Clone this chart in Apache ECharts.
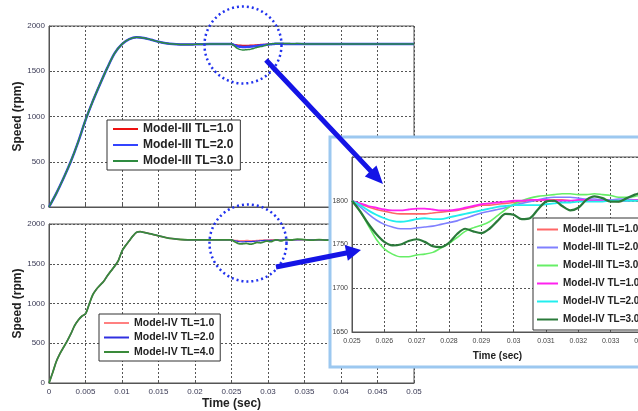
<!DOCTYPE html>
<html>
<head>
<meta charset="utf-8">
<script src="https://cdn.jsdelivr.net/npm/echarts@6/dist/echarts.min.js"></script>
<style>
  html, body { margin: 0; padding: 0; background: #fff; }
  #chart { width: 638px; height: 411px; }
</style>
</head>
<body>
<div id="chart"></div>
<script>
// ---- start-up transient (0 .. 0.025 s) ----
const startTimeIII = [0, 0.001, 0.002, 0.003, 0.004, 0.005, 0.006, 0.007, 0.008, 0.009, 0.010, 0.011, 0.012,
  0.013, 0.014, 0.015, 0.016, 0.017, 0.018, 0.019, 0.020, 0.021, 0.022, 0.023, 0.024];
const startSpeedIII = [0, 150, 320, 505, 720, 960, 1170, 1360, 1540, 1700, 1800, 1855, 1875,
  1868, 1848, 1825, 1810, 1800, 1796, 1795, 1797, 1799, 1800, 1800, 1800];

const startTimeIV = [0, 0.0005, 0.001, 0.0015, 0.002, 0.0025, 0.003, 0.0035, 0.004, 0.0045, 0.005, 0.0055,
  0.006, 0.0065, 0.007, 0.0075, 0.008, 0.0085, 0.009, 0.0095, 0.010, 0.0105, 0.011, 0.0115, 0.012, 0.0125,
  0.013, 0.014, 0.015, 0.016, 0.017, 0.018, 0.019, 0.020, 0.022, 0.024];
const startSpeedIV = [0, 130, 270, 370, 450, 530, 620, 720, 790, 840, 870, 990,
  1110, 1180, 1230, 1280, 1350, 1410, 1470, 1540, 1660, 1730, 1790, 1850, 1895, 1905,
  1895, 1875, 1850, 1830, 1815, 1805, 1800, 1800, 1800, 1800];

// ---- load step response (0.025 .. 0.034 s) ----
const dipTime = [0.025, 0.02525, 0.0255, 0.02575, 0.026, 0.02625, 0.0265, 0.02675, 0.027, 0.02725,
  0.0275, 0.02775, 0.028, 0.02825, 0.0285, 0.02875, 0.029, 0.02925, 0.0295, 0.02975,
  0.030, 0.03025, 0.0305, 0.03075, 0.031, 0.03125, 0.0315, 0.03175, 0.032, 0.03225,
  0.0325, 0.03275, 0.033, 0.03325, 0.0335, 0.03375, 0.034];
const dipIII_TL1 = [1800, 1796, 1793, 1790, 1788, 1786, 1785, 1785, 1785, 1785,
  1786, 1787, 1788, 1789, 1791, 1793, 1795, 1795, 1796, 1797,
  1798, 1799, 1800, 1800, 1801, 1801, 1801, 1800, 1800, 1800,
  1800, 1800, 1800, 1799, 1800, 1800, 1800];
const dipIII_TL2 = [1800, 1793, 1785, 1778, 1773, 1770, 1768, 1768, 1769, 1770,
  1771, 1773, 1775, 1777, 1780, 1783, 1786, 1788, 1790, 1792,
  1795, 1797, 1799, 1801, 1803, 1804, 1804, 1804, 1803, 1802,
  1802, 1801, 1801, 1802, 1802, 1801, 1801];
const dipIII_TL3 = [1800, 1788, 1772, 1756, 1745, 1739, 1736, 1736, 1738, 1739,
  1741, 1746, 1751, 1758, 1765, 1769, 1772, 1776, 1783, 1790,
  1796, 1800, 1803, 1805, 1806, 1807, 1808, 1808, 1807, 1807,
  1808, 1807, 1806, 1804, 1804, 1805, 1807];
const dipIV_TL1 = [1800, 1797, 1794, 1792, 1790, 1789, 1789, 1790, 1791, 1791,
  1790, 1789, 1789, 1790, 1792, 1794, 1796, 1797, 1798, 1799,
  1800, 1800, 1801, 1801, 1801, 1800, 1800, 1800, 1801, 1801,
  1800, 1800, 1800, 1800, 1800, 1801, 1801];
const dipIV_TL2 = [1800, 1795, 1789, 1784, 1780, 1777, 1776, 1777, 1779, 1780,
  1779, 1779, 1781, 1783, 1785, 1787, 1789, 1791, 1793, 1794,
  1795, 1795, 1795, 1795, 1796, 1797, 1798, 1798, 1799, 1799,
  1799, 1799, 1800, 1800, 1800, 1800, 1801];
const dipIV_TL3 = [1800, 1788, 1774, 1762, 1753, 1749, 1750, 1754, 1756, 1753,
  1748, 1747, 1752, 1762, 1768, 1765, 1763, 1768, 1777, 1785,
  1784, 1779, 1780, 1790, 1799, 1800, 1794, 1789, 1792, 1801,
  1805, 1803, 1799, 1799, 1803, 1807, 1810];

// ---- steady state (0.035 .. 0.05 s) ----
const tailTime = [0.035, 0.036, 0.037, 0.038, 0.039, 0.040, 0.041, 0.042, 0.043, 0.044,
  0.045, 0.046, 0.047, 0.048, 0.049, 0.050];
const tailSpeed = [1802, 1800, 1800, 1800, 1800, 1800, 1800, 1800, 1800, 1800,
  1800, 1800, 1800, 1800, 1800, 1800];
const tailSpeedIV_TL4 = [1803, 1797, 1803, 1797, 1802, 1798, 1801, 1799, 1800, 1800,
  1800, 1800, 1800, 1800, 1800, 1800];

// ---- axis ticks ----
const speedTicks = [0, 500, 1000, 1500, 2000];
const timeTicks = [0, 0.005, 0.01, 0.015, 0.02, 0.025, 0.03, 0.035, 0.04, 0.045, 0.05];
const zoomSpeedTicks = [1650, 1700, 1750, 1800, 1850];
const zoomTimeTicks = [0.025, 0.026, 0.027, 0.028, 0.029, 0.030, 0.031, 0.032, 0.033, 0.034];

const FONT = "'Liberation Sans', Arial, sans-serif";
const INSET = 'inset|';

function pairs(times, values) {
  return times.map((t, i) => [t, values[i]]);
}
function fullRun(startT, startV, dipV, tailV) {
  return pairs(startT, startV).concat(pairs(dipTime, dipV), pairs(tailTime, tailV));
}
function fmtNum(v) {
  return String(parseFloat(Number(v).toFixed(4)));
}

function arrowPoints(x1, y1, x2, y2, shaft, headLen, headHalf) {
  const dx = x2 - x1, dy = y2 - y1, L = Math.hypot(dx, dy);
  const ux = dx / L, uy = dy / L, px = -uy, py = ux;
  const bx = x2 - ux * headLen, by = y2 - uy * headLen;
  const s = shaft / 2;
  return [
    [x1 + px * s, y1 + py * s], [bx + px * s, by + py * s], [bx + px * headHalf, by + py * headHalf],
    [x2, y2],
    [bx - px * headHalf, by - py * headHalf], [bx - px * s, by - py * s], [x1 - px * s, y1 - py * s]
  ];
}

const gridLine = { show: true, lineStyle: { color: '#555', type: [2, 2], width: 1 } };
const frameGrid = (extra) => Object.assign({
  show: true, borderColor: '#555', borderWidth: 1, backgroundColor: 'transparent',
  containLabel: false, outerBoundsMode: 'none'
}, extra);

function mainTimeAxis(gridIndex, showLabels, withName) {
  return {
    type: 'value', gridIndex, min: timeTicks[0], max: timeTicks[timeTicks.length - 1],
    interval: timeTicks[1] - timeTicks[0],
    axisLine: { show: true, lineStyle: { color: '#555' } },
    axisTick: { show: true, inside: true, length: 3, lineStyle: { color: '#555' } },
    axisLabel: { show: showLabels, fontSize: 8, color: '#3a3a55', fontFamily: FONT, margin: 5, formatter: fmtNum },
    splitLine: gridLine,
    name: withName ? 'Time (sec)' : '', nameLocation: 'middle', nameGap: 15, nameMoveOverlap: false,
    nameTextStyle: { fontSize: 12, fontWeight: 'bold', color: '#222', fontFamily: FONT }
  };
}
function mainSpeedAxis(gridIndex) {
  return {
    type: 'value', gridIndex, min: speedTicks[0], max: speedTicks[speedTicks.length - 1],
    interval: speedTicks[1] - speedTicks[0],
    axisLine: { show: true, lineStyle: { color: '#555' } },
    axisTick: { show: true, inside: true, length: 3, lineStyle: { color: '#555' } },
    axisLabel: { fontSize: 8, color: '#3a3a55', fontFamily: FONT, margin: 4, formatter: fmtNum },
    splitLine: gridLine,
    name: 'Speed (rpm)', nameLocation: 'middle', nameGap: 25, nameMoveOverlap: false,
    nameTextStyle: { fontSize: 12, fontWeight: 'bold', color: '#222', fontFamily: FONT }
  };
}

function lineSeries(name, data, color, width, xi, yi, z) {
  return {
    type: 'line', name, data, xAxisIndex: xi, yAxisIndex: yi, z: z || 2,
    symbol: 'none', smooth: 0.3, clip: true,
    lineStyle: { color, width }, itemStyle: { color },
    emphasis: { disabled: true }
  };
}

const series = [
  // upper plot: Model-III
  lineSeries('Model-III TL=1.0', fullRun(startTimeIII, startSpeedIII, dipIII_TL1, tailSpeed), '#ee1111', 1.5, 0, 0),
  lineSeries('Model-III TL=2.0', fullRun(startTimeIII, startSpeedIII, dipIII_TL2, tailSpeed), '#3344ff', 2.5, 0, 0),
  lineSeries('Model-III TL=3.0', fullRun(startTimeIII, startSpeedIII, dipIII_TL3, tailSpeed), '#2e8b40', 1.5, 0, 0),
  // lower plot: Model-IV
  lineSeries('Model-IV TL=1.0', fullRun(startTimeIV, startSpeedIV, dipIV_TL1, tailSpeed), '#ff8080', 1.5, 1, 1),
  lineSeries('Model-IV TL=2.0', fullRun(startTimeIV, startSpeedIV, dipIV_TL2, tailSpeed), '#3030e0', 1.2, 1, 1),
  lineSeries('Model-IV TL=4.0', fullRun(startTimeIV, startSpeedIV, dipIV_TL3, tailSpeedIV_TL4), '#3a8a3a', 1.8, 1, 1),
  // magnified view of the load step
  lineSeries(INSET + 'Model-III TL=1.0', pairs(dipTime, dipIII_TL1), '#ff6666', 1.6, 2, 2, 7),
  lineSeries(INSET + 'Model-III TL=2.0', pairs(dipTime, dipIII_TL2), '#8080ff', 1.6, 2, 2, 7),
  lineSeries(INSET + 'Model-III TL=3.0', pairs(dipTime, dipIII_TL3), '#66ee66', 1.6, 2, 2, 7),
  lineSeries(INSET + 'Model-IV TL=1.0', pairs(dipTime, dipIV_TL1), '#ff22ee', 1.8, 2, 2, 7),
  lineSeries(INSET + 'Model-IV TL=2.0', pairs(dipTime, dipIV_TL2), '#22eeee', 1.8, 2, 2, 7),
  lineSeries(INSET + 'Model-IV TL=3.0', pairs(dipTime, dipIV_TL3), '#2a7a3a', 2.2, 2, 2, 7)
];

// legend keys are drawn as short flat strokes
const legendBase = {
  orient: 'vertical', selectedMode: false, backgroundColor: '#fff',
  borderColor: '#333', borderWidth: 1, borderRadius: 0, icon: 'rect',
  textStyle: { fontWeight: 'bold', color: '#222', fontFamily: FONT }
};

const option = {
  animation: false,
  backgroundColor: '#fff',
  grid: [
    frameGrid({ left: 49, top: 26, width: 365, height: 181 }),
    frameGrid({ left: 49, top: 224, width: 365, height: 159 }),
    frameGrid({ left: 352, top: 157, width: 291, height: 175, z: 6, backgroundColor: '#fff' })
  ],
  xAxis: [
    mainTimeAxis(0, false, false),
    mainTimeAxis(1, true, true),
    {
      type: 'value', gridIndex: 2, z: 6, min: zoomTimeTicks[0], max: zoomTimeTicks[zoomTimeTicks.length - 1],
      interval: 0.001,
      axisLine: { show: true, lineStyle: { color: '#555' } },
      axisTick: { show: true, inside: true, length: 3, lineStyle: { color: '#555' } },
      axisLabel: { fontSize: 7, color: '#444', fontFamily: FONT, margin: 6, formatter: fmtNum },
      splitLine: gridLine,
      name: 'Time (sec)', nameLocation: 'middle', nameGap: 19, nameMoveOverlap: false,
      nameTextStyle: { fontSize: 10, fontWeight: 'bold', color: '#222', fontFamily: FONT }
    }
  ],
  yAxis: [
    mainSpeedAxis(0),
    mainSpeedAxis(1),
    {
      type: 'value', gridIndex: 2, z: 6, min: zoomSpeedTicks[0], max: zoomSpeedTicks[zoomSpeedTicks.length - 1],
      interval: zoomSpeedTicks[1] - zoomSpeedTicks[0],
      axisLine: { show: true, lineStyle: { color: '#555' } },
      axisTick: { show: true, inside: true, length: 3, lineStyle: { color: '#555' } },
      axisLabel: { fontSize: 7, color: '#444', fontFamily: FONT, margin: 4, showMaxLabel: false, formatter: fmtNum },
      splitLine: gridLine
    }
  ],
  legend: [
    Object.assign({}, legendBase, {
      left: 107, top: 120, itemWidth: 25, itemHeight: 2, itemGap: 2, padding: [2, 7, 2, 6],
      data: ['Model-III TL=1.0', 'Model-III TL=2.0', 'Model-III TL=3.0'],
      textStyle: Object.assign({}, legendBase.textStyle, { fontSize: 12, lineHeight: 14 })
    }),
    Object.assign({}, legendBase, {
      left: 99, top: 314, itemWidth: 25, itemHeight: 2, itemGap: 2.5, padding: [3, 6, 3, 5],
      data: ['Model-IV TL=1.0', 'Model-IV TL=2.0', 'Model-IV TL=4.0'],
      textStyle: Object.assign({}, legendBase.textStyle, { fontSize: 10.5, lineHeight: 12 })
    }),
    Object.assign({}, legendBase, {
      left: 533, top: 218, z: 8, itemWidth: 21, itemHeight: 2, itemGap: 4, padding: [4.5, 6, 3.5, 4],
      data: ['Model-III TL=1.0', 'Model-III TL=2.0', 'Model-III TL=3.0',
        'Model-IV TL=1.0', 'Model-IV TL=2.0', 'Model-IV TL=3.0'].map(n => INSET + n),
      formatter: n => n.replace(INSET, ''),
      textStyle: Object.assign({}, legendBase.textStyle, { fontSize: 10, lineHeight: 14 })
    })
  ],
  graphic: [
    // panel holding the magnified view
    { type: 'rect', z: 5, shape: { x: 330, y: 137, width: 320, height: 230 },
      style: { fill: '#fff', stroke: '#9cc8f0', lineWidth: 3 } },
    // dotted circles marking the load step
    { type: 'circle', z: 9, shape: { cx: 243, cy: 45, r: 38.5 },
      style: { fill: null, stroke: '#2233ee', lineWidth: 2.5, lineDash: [2, 3] } },
    { type: 'circle', z: 9, shape: { cx: 248, cy: 243, r: 38.5 },
      style: { fill: null, stroke: '#2233ee', lineWidth: 2.5, lineDash: [2, 3] } },
    // arrows pointing to the magnified view
    { type: 'polygon', z: 9, shape: { points: arrowPoints(266, 60, 383, 184, 5, 18, 8) },
      style: { fill: '#1414e6' } },
    { type: 'polygon', z: 9, shape: { points: arrowPoints(276, 267, 361, 250, 5, 15, 8) },
      style: { fill: '#1414e6' } }
  ],
  series
};

const chart = echarts.init(document.getElementById('chart'), null, { renderer: 'canvas' });
chart.setOption(option);
</script>
</body>
</html>
